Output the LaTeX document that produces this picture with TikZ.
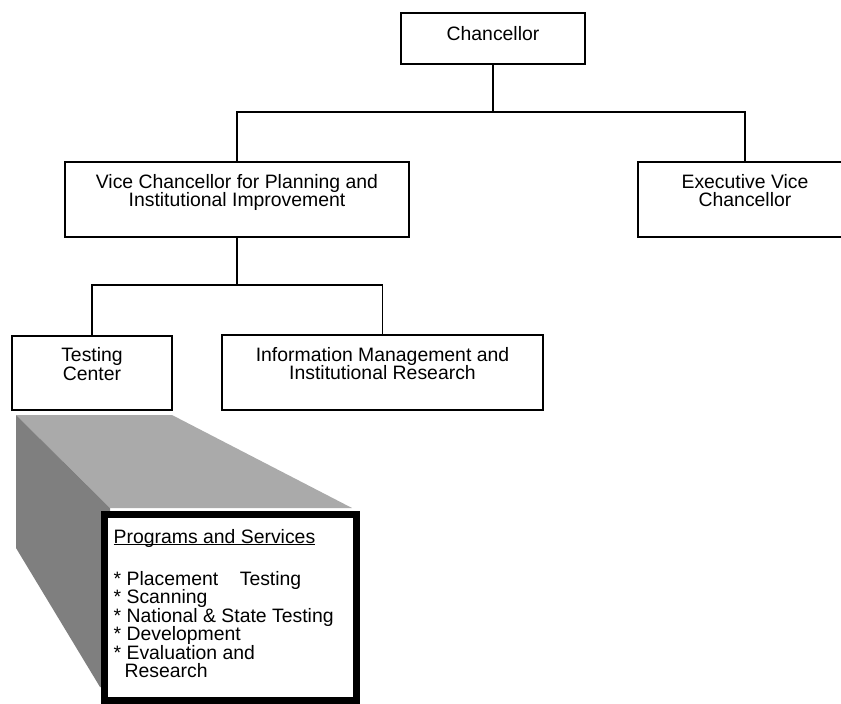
\documentclass[tikz,border=0pt]{standalone}
\usepackage{fontspec}
\setmainfont{Liberation Sans}
\definecolor{facetop}{HTML}{AAAAAA}
\definecolor{faceside}{HTML}{7F7F7F}

\begin{document}
\begin{tikzpicture}[x=1pt,y=-1pt,line width=1.3pt,
	orgbox/.style={draw, rectangle, align=center, inner sep=0pt, font=\fontsize{19.4}{18.5}\selectfont},
	listbox/.style={draw, rectangle, line width=7pt, fill=white, inner sep=0pt}]
	\useasboundingbox (0,0) rectangle (841,704);
	% shaded block behind the list
	\fill[facetop]	(16,415) -- (172,415) -- (352,508) -- (110,508) -- cycle;
	\fill[faceside]	(16,415) -- (110,508) -- (110,690) -- (100,687) -- (16,548) -- cycle;

	\node (Chan)	at (493, 38.5)	[orgbox, minimum width=184pt, minimum height=51pt, text depth=11pt]	{Chancellor};
	\node (VCPI)	at (237, 199.5)	[orgbox, minimum width=344pt, minimum height=75pt]	{Vice Chancellor for Planning and\\Institutional Improvement\\\mbox{}};
	\node (EVC)	at (745, 199.5)	[orgbox, minimum width=214pt, minimum height=75pt]	{Executive Vice\\Chancellor\\\mbox{}};
	\node (TC)	at ( 92, 373)	[orgbox, minimum width=160pt, minimum height=74pt]	{Testing\\Center\\\mbox{}};
	\node (IMIR)	at (382.5, 372.5)	[orgbox, minimum width=321pt, minimum height=75pt]	{Information Management and\\Institutional Research\\\mbox{}};
	\node (Prog)	at (230.5, 607.5)	[listbox, minimum width=252pt, minimum height=186pt]	{};
	\node (ProgList)	at (113, 529)	[anchor=north west, inner sep=0pt, align=left, font=\fontsize{19.4}{18.5}\selectfont]
		{\underline{\vphantom{P}\smash{Programs and Services}}\\[23.5pt]
		* Placement~~~~Testing\\
		* Scanning\\
		* National \& State Testing\\
		* Development\\
		* Evaluation and\\
		\hspace*{11pt}Research};

	\coordinate (bus1) at (493, 112);
	\coordinate (bus2) at (237, 285);
	\draw (Chan) -- (bus1);
	\draw (VCPI.north) |- (bus1) -| (EVC.north);
	\draw (VCPI) -- (bus2);
	\draw (TC.north) |- (bus2) -| (IMIR.north);
\end{tikzpicture}
\end{document}
